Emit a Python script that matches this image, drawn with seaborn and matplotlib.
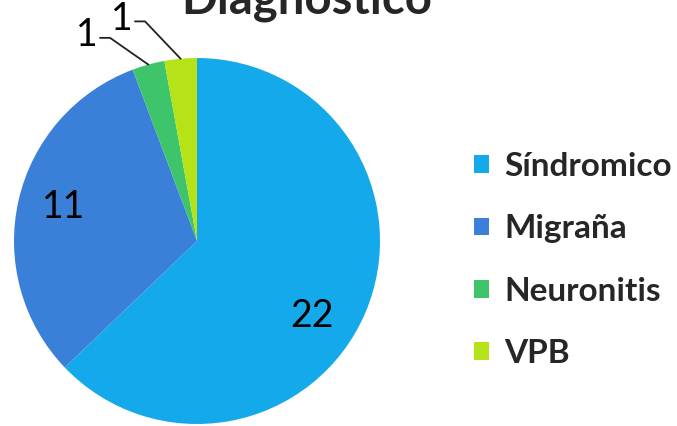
import matplotlib
matplotlib.use('Agg')
import matplotlib.pyplot as plt
import numpy as np
import seaborn as sns

# Data
categories = ['Síndromico', 'Migraña', 'Neuronitis', 'VPB']
values = [22, 11, 1, 1]
colors = ['#14A9EA', '#3B80D8', '#3EC46A', '#B5E318']
title = 'Diagnóstico'

sns.set_style('white')
plt.rcParams['font.family'] = ['Lato', 'DejaVu Sans']

W, H = 677, 426
fig = plt.figure(figsize=(W / 100, H / 100), dpi=100)

# pie axes: center (197, 241) px, radius 183 px
cx, cy, r = 197, 241, 183
ax = fig.add_axes([(cx - r) / W, (H - cy - r) / H, 2 * r / W, 2 * r / H])

wedges, _ = ax.pie(values, colors=colors, startangle=90, counterclock=False,
                   radius=1.0, wedgeprops=dict(linewidth=0))
ax.set_xlim(-1, 1)
ax.set_ylim(-1, 1)
ax.set_aspect('equal')
ax.axis('off')

# value labels
for w, v in zip(wedges, values):
    mid = np.deg2rad((w.theta1 + w.theta2) / 2)
    if v >= 5:
        rr = 0.75
        if v == max(values):
            mid2 = mid - np.deg2rad(10)
        else:
            mid2 = mid - np.deg2rad(1.5)
        ax.text(rr * np.cos(mid2), rr * np.sin(mid2), str(v), ha='center',
                va='center', fontsize=27, color='black')

# small slices: outside labels with elbow leader lines
small = [(w, v) for w, v in zip(wedges, values) if v < 5]
elbows = [(-0.475, 1.11), (-0.284, 1.20)]
for (w, v), (bx, by) in zip(small, elbows):
    mid = np.deg2rad((w.theta1 + w.theta2) / 2)
    ex, ey = np.cos(mid), np.sin(mid)
    ax.plot([ex, bx, bx - 0.055], [ey, by, by], color='#222222', lw=1.3,
            clip_on=False)
    ax.text(bx - 0.07, by + 0.015, str(v), ha='right', va='center',
            fontsize=27, color='black', clip_on=False)

fig.text(307 / W, 1 - 14 / H, title, ha='center', va='baseline',
         fontsize=34, fontweight='bold')

leg = fig.legend(wedges, categories, loc='upper left',
                 bbox_to_anchor=(474 / W, 1 - 152 / H), frameon=False,
                 prop=dict(size=24, weight='bold'), handlelength=0.45,
                 handleheight=0.45, handletextpad=0.45, labelspacing=1.0,
                 borderpad=0, borderaxespad=0)

fig.savefig('out.png', dpi=100)
